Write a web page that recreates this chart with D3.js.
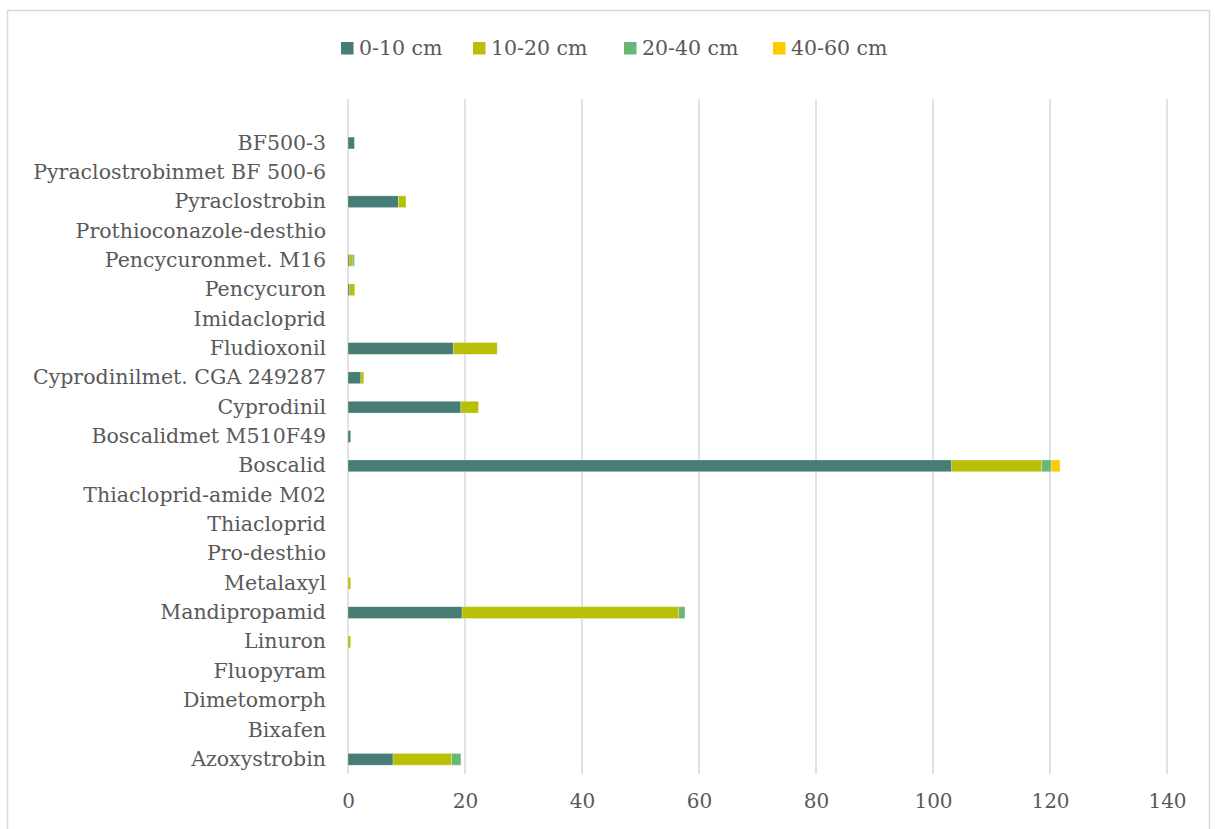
<!DOCTYPE html>
<html>
<head>
<meta charset="utf-8">
<script src="https://cdn.jsdelivr.net/npm/d3@7"></script>
<style>
  html, body { margin: 0; padding: 0; background: #ffffff; }
  svg { display: block; }
  text { font-family: "DejaVu Serif", "Liberation Serif", Georgia, serif; fill: #595959; }
</style>
</head>
<body>
<svg id="chart" width="1215" height="829"></svg>
<script>
// Substances, listed from the bottom row upward (the top row is left blank)
const substances = [
  "Azoxystrobin", "Bixafen", "Dimetomorph", "Fluopyram", "Linuron",
  "Mandipropamid", "Metalaxyl", "Pro-desthio", "Thiacloprid", "Thiacloprid-amide M02",
  "Boscalid", "Boscalidmet M510F49", "Cyprodinil", "Cyprodinilmet. CGA 249287",
  "Fludioxonil", "Imidacloprid", "Pencycuron", "Pencycuronmet. M16",
  "Prothioconazole-desthio", "Pyraclostrobin", "Pyraclostrobinmet BF 500-6", "BF500-3", ""
];

// Residue per soil depth layer, same order as substances
const depth0to10 = [7.7, 0, 0, 0, 0, 19.5, 0, 0, 0, 0, 103.2, 0.45, 19.3, 2.2, 18.0, 0, 0.3, 0.3, 0, 8.6, 0, 1.1, 0];
const depth10to20 = [10.0, 0, 0, 0, 0.45, 37.0, 0.45, 0, 0, 0, 15.4, 0, 3.0, 0.5, 7.5, 0, 0.85, 0.55, 0, 1.3, 0, 0, 0];
const depth20to40 = [1.6, 0, 0, 0, 0, 1.1, 0, 0, 0, 0, 1.6, 0, 0, 0, 0, 0, 0, 0.25, 0, 0, 0, 0, 0];
const depth40to60 = [0, 0, 0, 0, 0, 0, 0, 0, 0, 0, 1.5, 0, 0, 0, 0, 0, 0, 0, 0, 0, 0, 0, 0];

const seriesNames = ["0-10 cm", "10-20 cm", "20-40 cm", "40-60 cm"];
const seriesColors = ["#477d74", "#b9bf06", "#69b776", "#fecb00"];
const xTicks = [0, 20, 40, 60, 80, 100, 120, 140];

const seriesValues = [depth0to10, depth10to20, depth20to40, depth40to60];
const rows = substances.map((name, i) => {
  const r = { name };
  seriesNames.forEach((s, k) => { r[s] = seriesValues[k][i]; });
  return r;
});

const svg = d3.select("#chart");

// Outer chart frame
svg.append("rect")
  .attr("x", 7.5).attr("y", 10.5)
  .attr("width", 1202).attr("height", 830)
  .attr("fill", "none").attr("stroke", "#d9d9d9").attr("stroke-width", 1.5);

const plot = { left: 348, right: 1167, top: 99, bottom: 774 };

const x = d3.scaleLinear().domain([0, 140]).range([plot.left, plot.right]);
const y = d3.scaleBand()
  .domain(substances)
  .range([plot.bottom, plot.top])
  .paddingInner(0.6)
  .paddingOuter(0.3);

// Vertical gridlines
svg.append("g")
  .selectAll("line")
  .data(xTicks)
  .join("line")
  .attr("x1", d => x(d)).attr("x2", d => x(d))
  .attr("y1", plot.top).attr("y2", plot.bottom)
  .attr("stroke", "#d9d9d9").attr("stroke-width", 1.5);

// Value axis labels
const xAxis = d3.axisBottom(x).tickValues(xTicks).tickSize(0).tickPadding(0);
const gx = svg.append("g")
  .attr("transform", `translate(0,${plot.bottom + 20})`)
  .call(xAxis);
gx.select(".domain").remove();
gx.selectAll("text")
  .attr("font-size", 20)
  .attr("fill", "#595959")
  .attr("font-family", "DejaVu Serif, Liberation Serif, serif");

// Category labels
const yAxis = d3.axisLeft(y).tickSize(0).tickPadding(0);
const gy = svg.append("g")
  .attr("transform", `translate(${plot.left - 22},0)`)
  .call(yAxis);
gy.select(".domain").remove();
gy.selectAll("text")
  .attr("font-size", 20.5)
  .attr("fill", "#595959")
  .attr("font-family", "DejaVu Serif, Liberation Serif, serif");

// Stacked bars
const stacked = d3.stack().keys(seriesNames)(rows);
svg.append("g")
  .selectAll("g")
  .data(stacked)
  .join("g")
  .attr("fill", (d, i) => seriesColors[i])
  .selectAll("rect")
  .data(d => d.filter(p => p[1] - p[0] > 0))
  .join("rect")
  .attr("x", d => x(d[0]))
  .attr("y", d => y(d.data.name))
  .attr("width", d => x(d[1]) - x(d[0]))
  .attr("height", y.bandwidth())
  .attr("stroke", "#ffffff").attr("stroke-opacity", 0.35).attr("stroke-width", 0.75);

// Legend
const legendX = [341, 473, 624, 773];
const legend = svg.append("g");
seriesNames.forEach((name, i) => {
  legend.append("rect")
    .attr("x", legendX[i]).attr("y", 42)
    .attr("width", 12.5).attr("height", 12.5)
    .attr("fill", seriesColors[i]);
  legend.append("text")
    .attr("x", legendX[i] + 18).attr("y", 48)
    .attr("dominant-baseline", "central")
    .attr("font-size", 20.5)
    .text(name);
});
</script>
</body>
</html>
